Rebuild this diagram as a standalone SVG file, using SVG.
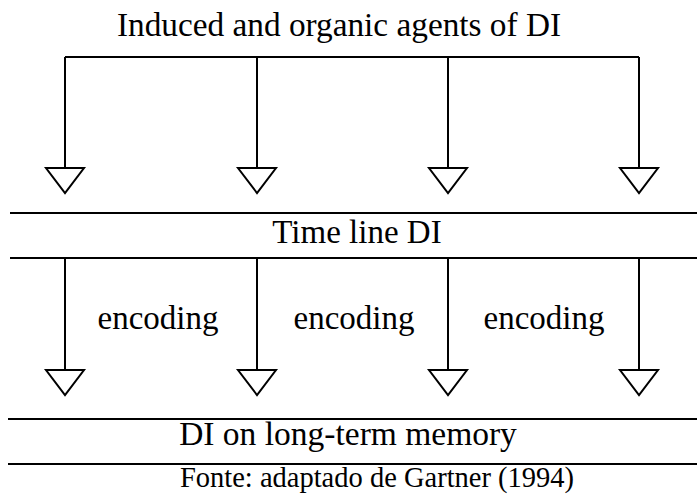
<svg xmlns="http://www.w3.org/2000/svg" width="697" height="501" viewBox="0 0 697 501">
<defs>
<style>
text{font-family:'Liberation Serif','Times New Roman','DejaVu Serif',serif;fill:#000;text-anchor:middle}
.l{stroke:#000;stroke-width:2;fill:none}
.tri{stroke:#000;stroke-width:2;fill:#fff;stroke-linejoin:miter}
</style>
<polygon id="tri" class="tri" points="-19,0 19,0 0,25"/>
</defs>
<rect width="697" height="501" fill="#fff"/>
<g id="title"><text x="339" y="36" font-size="33.3">Induced and organic agents of DI</text></g>
<g id="connectors">
<path class="l" d="M65,57 H639 M65,57 V168 M257,57 V168 M448,57 V168 M639,57 V168"/>
<use href="#tri" x="65" y="168"/>
<use href="#tri" x="257" y="168"/>
<use href="#tri" x="448" y="168"/>
<use href="#tri" x="639" y="168"/>
<path class="l" d="M65,258 V370 M257,258 V370 M448,258 V370 M639,258 V370"/>
<use href="#tri" x="65" y="370"/>
<use href="#tri" x="257" y="370"/>
<use href="#tri" x="448" y="370"/>
<use href="#tri" x="639" y="370"/>
</g>
<g id="timeline">
<path class="l" d="M10,213 H697 M10,258 H697"/>
<text x="357" y="243" font-size="33">Time line DI</text>
</g>
<g id="encoding">
<text x="158" y="329" font-size="33">encoding</text>
<text x="354" y="329" font-size="33">encoding</text>
<text x="544" y="329" font-size="33">encoding</text>
</g>
<g id="longterm">
<path class="l" d="M8,419 H697 M8,464 H697"/>
<text x="348" y="445" font-size="33.5">DI on long-term memory</text>
</g>
<g id="source"><text x="377" y="487" font-size="28.5">Fonte: adaptado de Gartner (1994)</text></g>
</svg>
